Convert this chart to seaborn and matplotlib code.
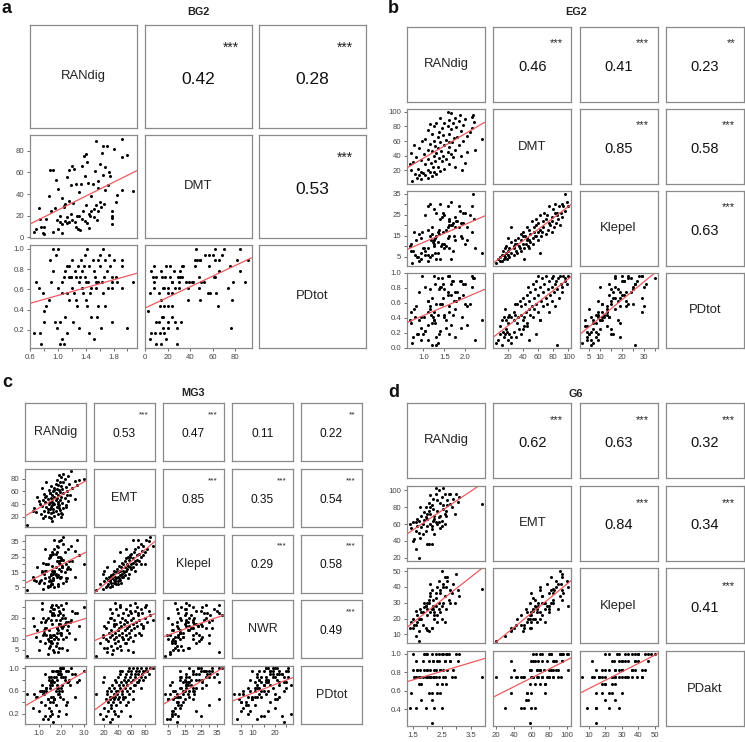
import matplotlib
matplotlib.use("Agg")
import matplotlib.pyplot as plt
import numpy as np
import pandas as pd
import seaborn as sns

sns.set_theme(style="white")
plt.rcParams['font.family'] = ['Liberation Sans', 'DejaVu Sans']

# ---------------- panel a : BG2 ----------------
a_names = ["RANdig", "DMT", "PDtot"]
a_RANdig = [0.65, 0.68, 0.72, 0.73, 0.75, 0.78, 0.80, 0.80, 0.83, 0.87, 0.88, 0.90, 0.92, 0.93, 0.95, 0.97, 0.98, 1.00, 1.00, 1.02,
            1.03, 1.05, 1.05, 1.06, 1.08, 1.08, 1.10, 1.10, 1.12, 1.12, 1.13, 1.15, 1.15, 1.16, 1.18, 1.18, 1.20, 1.20, 1.22, 1.23,
            1.24, 1.25, 1.26, 1.27, 1.28, 1.30, 1.30, 1.32, 1.33, 1.34, 1.35, 1.36, 1.37, 1.38, 1.39, 1.40, 1.40, 1.41, 1.42, 1.43,
            1.44, 1.45, 1.46, 1.48, 1.48, 1.50, 1.51, 1.52, 1.53, 1.55, 1.55, 1.56, 1.58, 1.58, 1.60, 1.61, 1.62, 1.63, 1.64, 1.65,
            1.66, 1.67, 1.68, 1.70, 1.72, 1.73, 1.75, 1.78, 1.78, 1.78, 1.78, 1.80, 1.83, 1.85, 1.92, 1.92, 1.92, 2.00, 2.08, 1.58]
a_DMT = [5, 8, 27, 17, 10, 4, 3, 10, 17, 38, 62, 24, 62, 5, 27, 53, 16, 8, 45, 20,
         14, 4, 36, 12, 28, 29, 15, 31, 56, 19, 13, 62, 34, 14, 48, 22, 66, 16, 32, 63,
         14, 10, 49, 20, 8, 42, 20, 7, 49, 17, 66, 24, 75, 57, 15, 77, 30, 13, 70, 50,
         22, 9, 20, 38, 24, 49, 26, 19, 61, 89, 30, 16, 46, 24, 68, 33, 28, 78, 58, 84,
         31, 44, 65, 84, 48, 60, 57, 12, 18, 24, 20, 82, 33, 39, 91, 74, 44, 76, 43, 52]
a_PDtot = [0.17, 0.67, 0.61, 0.17, 0.06, 0.56, 0.39, 0.28, 0.44, 0.50, 0.89, 0.67, 1.00, 0.78, 0.28, 0.94, 0.22, 0.61, 1.00, 0.28,
           0.06, 0.11, 0.67, 0.56, 0.06, 0.72, 0.33, 0.78, 0.56, 0.83, 0.17, 0.72, 0.83, 0.50, 0.72, 0.72, 0.89, 0.61, 0.28, 0.56,
           0.78, 0.72, 0.50, 0.44, 0.83, 0.67, 0.22, 0.72, 0.89, 0.61, 0.78, 0.56, 0.83, 0.94, 0.72, 0.50, 0.67, 0.44, 1.00, 0.67,
           0.83, 0.17, 0.56, 0.61, 0.33, 0.89, 0.78, 0.11, 0.72, 0.67, 0.61, 0.33, 0.89, 0.44, 0.94, 0.83, 0.22, 0.67, 0.56, 1.00,
           0.72, 0.89, 0.44, 0.78, 0.61, 0.94, 0.83, 0.28, 0.72, 0.67, 0.61, 0.89, 0.72, 0.67, 0.89, 0.61, 0.83, 0.22, 0.67, 0.67]
a_corr = [0.42, 0.28, 0.53]
a_stars = ["***", "***", "***"]

# ---------------- panel b : EG2 ----------------
b_names = ["RANdig", "DMT", "Klepel", "PDtot"]
b_RANdig = [0.72, 0.95, 1.10, 0.85, 1.20, 0.90, 1.05, 1.30, 0.80, 1.00, 1.15, 0.95, 1.25, 1.40, 0.70, 1.10, 1.50, 0.88, 1.22, 1.35,
            0.68, 1.05, 1.60, 1.18, 0.75, 1.45, 1.28, 0.95, 1.55, 1.12, 1.38, 1.70, 0.82, 1.25, 1.48, 1.02, 1.65, 1.30, 0.70, 1.58,
            1.20, 1.42, 1.75, 1.10, 1.35, 0.90, 1.62, 1.28, 1.50, 1.85, 0.78, 1.15, 1.40, 1.68, 1.25, 1.95, 1.55, 1.05, 1.72, 1.35,
            1.80, 2.05, 1.48, 1.20, 1.60, 2.10, 1.38, 1.90, 1.10, 1.65, 1.45, 2.15, 1.78, 1.25, 1.58, 1.95, 1.15, 1.70, 1.50, 2.20,
            1.85, 1.62, 2.00, 1.40, 1.75, 2.15, 2.18, 1.88, 1.65, 1.58, 2.40, 1.60, 2.22, 2.05, 1.90, 2.00, 1.75, 1.92, 1.30, 0.98]
b_DMT = [5, 8, 10, 10, 12, 13, 14, 15, 15, 16, 17, 18, 18, 19, 20, 20, 22, 22, 24, 25,
         28, 28, 29, 30, 31, 32, 33, 34, 35, 36, 37, 38, 38, 40, 40, 42, 42, 43, 44, 45,
         46, 47, 48, 48, 50, 50, 52, 53, 54, 55, 55, 56, 58, 58, 60, 60, 62, 63, 64, 65,
         66, 67, 68, 70, 70, 72, 73, 74, 75, 76, 78, 78, 79, 80, 81, 82, 83, 84, 85, 86,
         88, 89, 90, 91, 92, 93, 95, 96, 98, 100, 63, 58, 48, 45, 40, 30, 25, 20, 85, 60]
b_Klepel = [2, 4, 3, 5, 6, 3, 8, 4, 6, 9, 5, 7, 10, 4, 8, 6, 9, 5, 12, 7,
            10, 6, 9, 13, 8, 11, 7, 14, 10, 9, 16, 8, 13, 11, 17, 9, 4, 15, 11, 14,
            19, 10, 13, 18, 12, 16, 22, 14, 11, 19, 17, 15, 23, 20, 13, 21, 18, 25, 15, 17,
            22, 19, 26, 16, 23, 25, 18, 21, 29, 20, 24, 17, 22, 28, 19, 26, 30, 21, 25, 23,
            29, 20, 26, 30, 24, 29, 35, 27, 31, 29, 7, 15, 9, 13, 15, 11, 19, 14, 26, 17]
b_PDtot = [0.07, 0.11, 0.30, 0.19, 0.04, 0.37, 0.22, 0.15, 0.41, 0.19, 0.52, 0.26, 0.37, 0.22, 0.33, 0.11, 0.44, 0.19, 0.41, 0.07,
           0.37, 0.22, 0.48, 0.44, 0.15, 0.59, 0.33, 0.41, 0.26, 0.63, 0.19, 0.44, 0.56, 0.37, 0.67, 0.41, 0.30, 0.59, 0.48, 0.70,
           0.33, 0.81, 0.52, 0.63, 0.44, 0.74, 0.56, 0.85, 0.41, 0.67, 0.52, 0.78, 0.59, 0.89, 0.48, 0.70, 0.37, 0.81, 0.63, 0.93,
           0.74, 0.56, 0.85, 0.67, 0.96, 0.59, 0.78, 0.89, 0.48, 0.70, 0.93, 0.81, 0.63, 0.96, 0.74, 0.85, 0.56, 0.89, 0.78, 0.93,
           0.67, 0.96, 0.85, 0.81, 0.74, 0.96, 0.93, 0.89, 0.85, 0.96, 0.37, 0.19, 0.11, 0.30, 0.26, 0.59, 0.15, 0.41, 0.04, 0.96]
b_corr = [0.46, 0.41, 0.23, 0.85, 0.58, 0.63]
b_stars = ["***", "***", "**", "***", "***", "***"]

# ---------------- panel c : MG3 ----------------
c_names = ["RANdig", "EMT", "Klepel", "NWR", "PDtot"]
c_RANdig = [0.50, 1.60, 1.20, 1.45, 1.70, 1.30, 1.85, 1.10, 1.55, 2.00, 1.40, 0.90, 1.75, 1.25, 1.95, 1.50, 1.65, 0.80, 2.10, 1.35,
            1.80, 1.55, 1.15, 2.20, 1.60, 1.90, 1.45, 1.70, 1.05, 2.05, 1.65, 1.30, 1.85, 1.50, 2.30, 1.75, 1.20, 1.95, 1.60, 1.40,
            2.15, 1.80, 1.55, 0.95, 2.00, 1.70, 1.35, 2.40, 1.85, 1.60, 1.25, 2.10, 1.75, 1.50, 1.95, 2.25, 1.65, 1.90, 1.45, 2.05,
            1.80, 2.50, 1.70, 2.20, 1.55, 2.00, 1.85, 2.35, 1.75, 2.10, 1.95, 2.60, 1.80, 2.15, 2.00, 2.30, 1.90, 2.10, 2.80, 3.00,
            2.70, 2.45, 1.00, 1.40, 2.20, 1.65, 1.85, 0.75, 2.05, 1.55, 1.30, 1.70, 2.60, 1.15, 1.90, 1.60, 2.25, 1.35, 2.00, 1.50]
c_EMT = [8, 14, 18, 20, 22, 22, 24, 25, 26, 27, 28, 28, 30, 30, 31, 32, 33, 34, 34, 35,
         36, 36, 37, 38, 38, 39, 40, 40, 41, 42, 42, 43, 44, 44, 45, 46, 46, 47, 48, 48,
         49, 50, 50, 51, 52, 52, 53, 54, 55, 55, 56, 57, 58, 58, 59, 60, 60, 62, 62, 63,
         64, 65, 66, 67, 68, 69, 70, 71, 72, 74, 75, 76, 78, 80, 82, 84, 86, 88, 78, 80,
         70, 92, 45, 32, 36, 28, 40, 30, 24, 18, 52, 62, 48, 65, 34, 44, 55, 75, 20, 58]
c_Klepel = [3, 7, 4, 9, 5, 11, 6, 10, 7, 12, 5, 9, 13, 8, 11, 6, 14, 10, 8, 16,
            12, 9, 15, 11, 7, 17, 12, 15, 9, 19, 11, 16, 13, 10, 18, 14, 21, 12, 16, 20,
            15, 22, 13, 18, 24, 16, 20, 17, 25, 19, 14, 23, 18, 26, 20, 17, 27, 21, 24, 18,
            28, 22, 30, 20, 26, 23, 31, 22, 27, 33, 25, 29, 32, 28, 36, 30, 35, 38, 26, 20,
            36, 32, 8, 6, 9, 10, 7, 12, 18, 14, 30, 36, 12, 16, 22, 28, 11, 20, 16, 25]
c_NWR = [2, 8, 12, 6, 10, 15, 4, 18, 9, 13, 20, 11, 7, 14, 22, 12, 5, 16, 10, 19,
         13, 8, 24, 11, 17, 6, 14, 21, 9, 15, 12, 18, 25, 7, 16, 11, 20, 13, 22, 10,
         17, 8, 19, 14, 12, 24, 15, 18, 10, 21, 13, 16, 26, 11, 19, 14, 22, 17, 9, 20,
         15, 23, 12, 18, 25, 16, 21, 13, 19, 24, 17, 22, 15, 20, 26, 18, 23, 21, 16, 25,
         22, 19, 5, 3, 27, 24, 14, 20, 6, 11, 8, 4, 10, 27, 17, 26, 5, 12, 16, 23]
c_PDtot = [0.55, 0.20, 0.10, 0.30, 0.45, 0.15, 0.55, 0.40, 0.25, 0.65, 0.45, 0.50, 0.35, 0.60, 0.50, 0.70, 0.40, 0.55, 0.45, 0.65,
           0.80, 0.50, 0.60, 0.35, 0.75, 0.55, 0.85, 0.45, 0.60, 0.70, 0.50, 0.90, 0.65, 0.40, 0.75, 0.60, 0.55, 0.95, 0.70, 0.45,
           0.80, 0.65, 0.85, 0.50, 0.90, 0.75, 0.60, 0.70, 0.95, 0.80, 0.55, 1.00, 0.85, 0.65, 0.90, 0.75, 0.95, 0.60, 0.80, 1.00,
           0.70, 0.90, 0.85, 0.95, 0.75, 1.00, 0.90, 0.80, 0.95, 0.85, 1.00, 0.90, 0.95, 0.85, 1.00, 0.95, 0.90, 1.00, 0.80, 0.95,
           0.75, 1.00, 0.25, 0.10, 0.20, 0.05, 0.15, 0.30, 0.60, 0.75, 0.35, 0.45, 0.50, 0.70, 0.25, 0.95, 0.40, 0.65, 0.85, 0.15]
c_corr = [0.53, 0.47, 0.11, 0.22, 0.85, 0.35, 0.54, 0.29, 0.58, 0.49]
c_stars = ["***", "***", "", "**", "***", "***", "***", "***", "***", "***"]

# ---------------- panel d : G6 ----------------
d_names = ["RANdig", "EMT", "Klepel", "PDakt"]
d_RANdig = [1.70, 1.60, 1.50, 1.55, 1.40, 1.50, 1.45, 1.65, 1.70, 1.60, 1.75, 1.80, 1.85, 1.90, 1.80, 1.95, 2.00, 2.05, 2.15, 2.10,
            1.95, 2.00, 2.05, 2.10, 2.15, 2.20, 2.25, 2.15, 2.20, 2.30, 2.40, 2.35, 2.30, 2.25, 2.40, 2.45, 2.50, 2.55, 2.45, 2.50,
            2.60, 2.55, 2.65, 2.60, 2.70, 2.75, 2.80, 2.85, 2.65, 2.90, 3.00, 3.05, 3.10, 2.95, 3.90, 1.85, 2.00, 2.10, 2.20, 1.90,
            2.05, 2.35, 2.50, 2.15, 1.75, 1.65, 2.30, 2.40, 2.00, 2.60, 2.25, 1.95, 2.45, 2.70, 2.10, 1.70, 2.35, 2.55, 2.80, 1.60]
d_EMT = [20, 30, 40, 42, 60, 62, 55, 58, 50, 62, 80, 56, 48, 65, 70, 52, 37, 37, 37, 60,
         68, 72, 75, 80, 58, 64, 70, 82, 90, 102, 100, 75, 62, 48, 68, 85, 92, 78, 55, 64,
         95, 82, 70, 60, 88, 95, 95, 80, 75, 90, 95, 86, 92, 72, 84, 60, 66, 72, 78, 74,
         85, 88, 58, 54, 44, 66, 96, 62, 58, 72, 66, 80, 70, 82, 94, 64, 60, 102, 84, 52]
d_Klepel = [6, 9, 14, 16, 14, 20, 18, 22, 12, 25, 26, 20, 16, 27, 24, 14, 13, 12, 14, 36,
            28, 22, 30, 24, 14, 32, 20, 38, 26, 28, 44, 18, 33, 22, 30, 36, 50, 42, 24, 28,
            46, 30, 40, 18, 44, 32, 38, 36, 26, 42, 48, 38, 34, 30, 39, 24, 26, 34, 28, 30,
            32, 40, 20, 26, 20, 18, 36, 26, 30, 34, 24, 28, 38, 46, 42, 20, 22, 40, 30, 16]
d_PDakt = [0.75, 0.42, 0.83, 0.75, 0.42, 1.00, 0.58, 0.83, 0.75, 0.92, 0.83, 0.50, 0.75, 1.00, 0.67, 0.42, 0.75, 0.92, 0.58, 0.83,
           0.75, 1.00, 0.58, 0.75, 0.25, 0.92, 0.83, 1.00, 0.75, 0.83, 1.00, 0.67, 0.75, 0.42, 0.92, 0.83, 1.00, 0.75, 0.58, 0.42,
           0.92, 0.83, 1.00, 0.75, 0.83, 1.00, 0.92, 0.75, 0.67, 0.83, 1.00, 0.92, 1.00, 0.75, 0.75, 0.92, 0.83, 0.75, 0.92, 0.83,
           0.75, 0.92, 0.67, 0.50, 0.75, 0.83, 1.00, 0.75, 0.83, 0.92, 0.75, 1.00, 0.83, 1.00, 0.75, 0.67, 0.58, 1.00, 0.92, 0.75]
d_corr = [0.62, 0.63, 0.32, 0.84, 0.34, 0.41]
d_stars = ["***"] * 6

# ---------------- axis ticks (positions, labels) ----------------
a_ticks = {
    "RANdig": ([0.6, 0.8, 1.0, 1.2, 1.4, 1.6, 1.8, 2.0], ["0.6", "", "1.0", "", "1.4", "", "1.8", ""]),
    "DMT": ([0, 20, 40, 60, 80], ["0", "20", "40", "60", "80"]),
    "PDtot": ([0.2, 0.4, 0.6, 0.8, 1.0], ["0.2", "0.4", "0.6", "0.8", "1.0"]),
}
b_ticks = {
    "RANdig": ([1.0, 1.5, 2.0], ["1.0", "1.5", "2.0"]),
    "DMT": ([20, 40, 60, 80, 100], ["20", "40", "60", "80", "100"]),
    "Klepel": ([5, 10, 15, 20, 25, 30, 35], ["5", "10", "15", "20", "25", "30", "35"]),
    "PDtot": ([0.0, 0.2, 0.4, 0.6, 0.8, 1.0], ["0.0", "0.2", "0.4", "0.6", "0.8", "1.0"]),
}
b_ylabels_klepel = ["5", "", "15", "", "25", "", "35"]
b_xlabels_klepel = ["5", "10", "", "20", "", "30", ""]
c_ticks = {
    "RANdig": ([1.0, 1.5, 2.0, 2.5, 3.0], ["1.0", "", "2.0", "", "3.0"]),
    "EMT": ([20, 40, 60, 80], ["20", "40", "60", "80"]),
    "Klepel": ([5, 10, 15, 20, 25, 30, 35], ["5", "", "15", "", "25", "", "35"]),
    "NWR": ([5, 10, 15, 20, 25], ["5", "10", "", "20", ""]),
    "PDtot": ([0.2, 0.4, 0.6, 0.8, 1.0], ["0.2", "", "0.6", "", "1.0"]),
}
d_ticks = {
    "RANdig": ([1.5, 2.0, 2.5, 3.0, 3.5], ["1.5", "", "2.5", "", "3.5"]),
    "EMT": ([20, 40, 60, 80, 100], ["20", "40", "60", "80", "100"]),
    "Klepel": ([10, 20, 30, 40, 50], ["10", "20", "30", "40", "50"]),
    "PDakt": ([0.4, 0.6, 0.8, 1.0], ["0.4", "0.6", "0.8", "1.0"]),
}

W, H = 745, 742
fig = plt.figure(figsize=(W / 100, H / 100), dpi=100)
fig.patch.set_facecolor("white")

BOX = "#8a8a8a"
TICKC = "#555555"
LINEC = "#ec5a5e"


def add_ax(x, y, w, h):
    return fig.add_axes([x / W, 1 - (y + h) / H, w / W, h / H])


def draw_pairs(df, names, corr, stars, ticks, geom, fs, ytick_override=None, xtick_override=None):
    x0, xs, w, y0, ys, h = geom
    n = len(names)
    lims = {}
    for v in names:
        lo, hi = df[v].min(), df[v].max()
        r = hi - lo
        lims[v] = (lo - 0.04 * r, hi + 0.04 * r)
    k = 0
    for i in range(n):
        for j in range(n):
            ax = add_ax(x0 + j * xs, y0 + i * ys, w, h)
            ax.set_facecolor("white")
            for s in ax.spines.values():
                s.set_color(BOX)
                s.set_linewidth(0.9)
            ax.grid(False)
            if i == j:
                ax.text(0.5, 0.5, names[i], ha="center", va="center", fontsize=fs["name"],
                        color="#222222", transform=ax.transAxes)
                ax.set_xticks([])
                ax.set_yticks([])
            elif i < j:
                ax.text(0.5, 0.47, f"{corr[k]:.2f}", ha="center", va="center", fontsize=fs["corr"],
                        color="#111111", transform=ax.transAxes)
                if stars[k]:
                    ax.text(fs["sx"], fs["sy"], stars[k], ha="right", va="center", fontsize=fs["star"],
                            color="#222222", transform=ax.transAxes)
                k += 1
                ax.set_xticks([])
                ax.set_yticks([])
            else:
                xv, yv = names[j], names[i]
                ax.set_xlim(lims[xv])
                ax.set_ylim(lims[yv])
                sns.regplot(data=df, x=xv, y=yv, ax=ax, ci=None, truncate=False,
                            scatter_kws=dict(s=4.8, color="black", marker="s", linewidths=0, alpha=1),
                            line_kws=dict(color=LINEC, lw=0.9))
                ax.set_xlim(lims[xv])
                ax.set_ylim(lims[yv])
                ax.set_xlabel("")
                ax.set_ylabel("")
                if j == 0:
                    tp, tl = ticks[yv]
                    if ytick_override and yv in ytick_override:
                        tl = ytick_override[yv]
                    ax.set_yticks(tp)
                    ax.set_yticklabels(tl)
                else:
                    ax.set_yticks([])
                if i == n - 1:
                    tp, tl = ticks[xv]
                    if xtick_override and xv in xtick_override:
                        tl = xtick_override[xv]
                    ax.set_xticks(tp)
                    ax.set_xticklabels(tl)
                else:
                    ax.set_xticks([])
                ax.tick_params(axis="both", which="both", bottom=(i == n - 1), left=(j == 0),
                               length=2.5, width=0.6, color=TICKC, labelsize=5.6,
                               labelcolor="#444444", pad=1.5)


dfa = pd.DataFrame({"RANdig": a_RANdig, "DMT": a_DMT, "PDtot": a_PDtot})
dfb = pd.DataFrame({"RANdig": b_RANdig, "DMT": b_DMT, "Klepel": b_Klepel, "PDtot": b_PDtot})
dfc = pd.DataFrame({"RANdig": c_RANdig, "EMT": c_EMT, "Klepel": c_Klepel, "NWR": c_NWR, "PDtot": c_PDtot})
dfd = pd.DataFrame({"RANdig": d_RANdig, "EMT": d_EMT, "Klepel": d_Klepel, "PDakt": d_PDakt})

draw_pairs(dfa, a_names, a_corr, a_stars, a_ticks, (30, 114.5, 107, 25, 110, 103),
           dict(name=9.4, corr=12.5, star=10, sx=0.88, sy=0.78))
draw_pairs(dfb, b_names, b_corr, b_stars, b_ticks, (407, 86.3, 78, 27, 82, 75),
           dict(name=9.4, corr=10.5, star=8, sx=0.89, sy=0.78),
           ytick_override={"Klepel": b_ylabels_klepel}, xtick_override={"Klepel": b_xlabels_klepel})
draw_pairs(dfc, c_names, c_corr, c_stars, c_ticks, (25, 69, 61, 403, 65.8, 58),
           dict(name=9.0, corr=8.6, star=6, sx=0.89, sy=0.80))
draw_pairs(dfd, d_names, d_corr, d_stars, d_ticks, (407, 86.3, 78, 403, 82.7, 75),
           dict(name=9.4, corr=10.5, star=8, sx=0.89, sy=0.77))

# titles and panel letters
for (tx, ty, t) in [(198, 12, "BG2"), (576, 12, "EG2"), (193, 393, "MG3"), (576, 394, "G6")]:
    fig.text(tx / W, 1 - ty / H, t, ha="center", va="center", fontsize=7.8, fontweight="bold", color="#222222")
for (tx, ty, t) in [(1, 13, "a"), (388, 13, "b"), (2, 387, "c"), (388, 397, "d")]:
    fig.text(tx / W, 1 - ty / H, t, ha="left", va="baseline", fontsize=13, fontweight="bold", color="#111111")

fig.savefig("out.png", dpi=100, facecolor="white")
